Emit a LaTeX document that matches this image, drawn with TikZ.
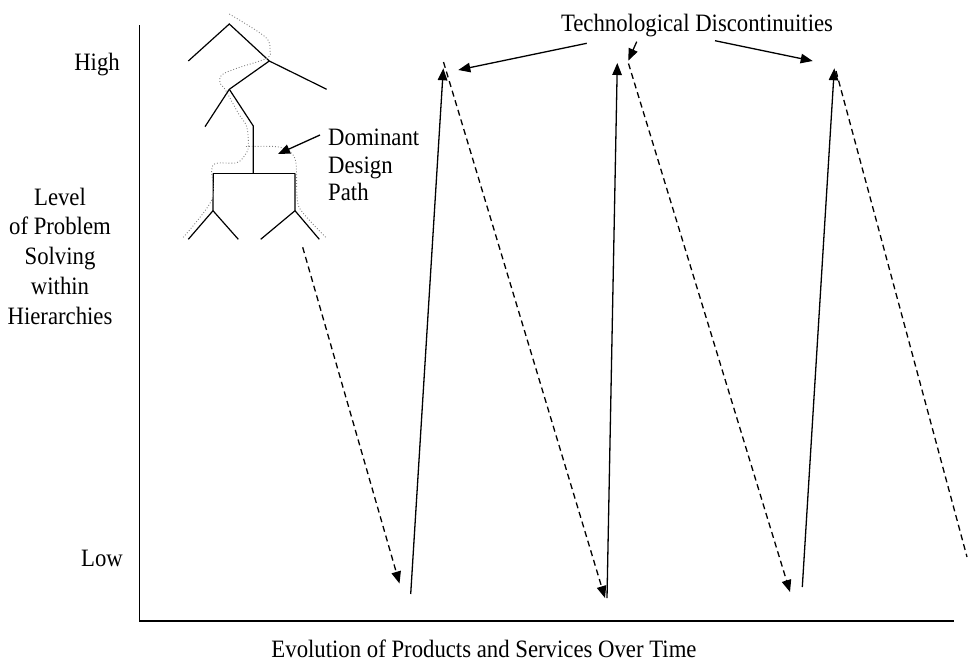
\documentclass[tikz,border=0pt]{standalone}
\usepackage{fontspec}
\setmainfont{Liberation Serif}[FakeStretch=0.91]
\usetikzlibrary{arrows.meta}
\begin{document}
\begin{tikzpicture}[x=1pt,y=-1pt,
  lbl/.style={font=\fontsize{25}{29}\selectfont, inner sep=0pt},
  ln/.style={line width=1.3pt},
  tip/.style={-{Triangle[length=12pt,width=9.5pt]}},
  arr/.style={ln, tip},
  dsh/.style={ln, dash pattern=on 6pt off 4pt},
  dpath/.style={gray, line width=0.9pt, dotted},
  tree/.style={line width=1.2pt}]
\useasboundingbox (0,0) rectangle (968,667);
% axes
\coordinate (ytop) at (139.3,25);
\coordinate (orig) at (139.3,621);
\coordinate (xend) at (954,621);
\draw[ln] (ytop) -- (orig) -- (xend);
% axis labels
\node[lbl, anchor=base east] (high) at (120,70) {High};
\node[lbl, anchor=base east] (low) at (123,566) {Low};
\node[lbl, anchor=base] (l1) at (60,205) {Level};
\node[lbl, anchor=base] (l2) at (60,234.5) {of Problem};
\node[lbl, anchor=base] (l3) at (60,264) {Solving};
\node[lbl, anchor=base] (l4) at (60,294) {within};
\node[lbl, anchor=base] (l5) at (60,324) {Hierarchies};
\node[lbl, anchor=base] (xl) at (484,657) {Evolution of Products and Services Over Time};
% tree
\coordinate (A) at (229.3,24);
\coordinate (B) at (188.3,61);
\coordinate (C) at (269.3,61);
\coordinate (D) at (326.7,89.3);
\coordinate (E) at (229.3,89.3);
\coordinate (F) at (205,126.7);
\coordinate (G) at (253.3,126);
\coordinate (H) at (253.3,173.3);
\coordinate (I) at (213.3,173.3);
\coordinate (J) at (295,173.3);
\coordinate (K) at (213,210.7);
\coordinate (L) at (295,210.7);
\coordinate (M) at (188.3,239.3);
\coordinate (N) at (238.3,239.3);
\coordinate (O) at (260.7,239.3);
\coordinate (P) at (319.3,239.3);
\draw[tree] (B) -- (A) -- (C) -- (D);
\draw[tree] (C) -- (E) -- (F);
\draw[tree] (E) -- (G) -- (H);
\draw[tree] (I) -- (J);
\draw[tree] (I) -- (K) -- (M);
\draw[tree] (K) -- (N);
\draw[tree] (J) -- (L) -- (O);
\draw[tree] (L) -- (P);
% dominant design path (dotted)
\draw[dpath] plot[smooth, tension=0.55] coordinates {(229.3,14) (265,36.7) (270,50) (266.7,58.3) (236.7,68.3) (221.7,75) (220,83.3) (225,89.3) (238.3,113.3) (246.7,126.7) (248.3,146.7) (245,155) (236.7,162.7) (216.7,163.3) (211.7,170) (211.7,200) (183.3,237.3)};
\draw[dpath] plot[smooth, tension=0.55] coordinates {(246,146.5) (276.7,146.7) (290,151.7) (296,163.3) (297.3,200) (303.3,213.3) (326.7,238.3)};
% dominant design label
\node[lbl, anchor=base west] (dd1) at (328,145) {Dominant};
\node[lbl, anchor=base west] (dd2) at (328,173) {Design};
\node[lbl, anchor=base west] (dd3) at (328,200) {Path};
\coordinate (dds) at (320,135);
\coordinate (ddt) at (278,154);
\draw[arr] (dds) -- (ddt);
% sawtooth
\coordinate (d1s) at (302.7,247.3);
\coordinate (b1) at (399.5,583.5);
\coordinate (s1b) at (410.7,594);
\coordinate (t1) at (443.3,68.3);
\coordinate (d2s) at (443.5,62);
\coordinate (b2) at (605,598);
\coordinate (s2b) at (607,598);
\coordinate (t2) at (617.3,63);
\coordinate (d3s) at (628.5,63.5);
\coordinate (b3) at (790,592);
\coordinate (s3b) at (802.3,587);
\coordinate (t3) at (834.3,68.3);
\coordinate (d4s) at (836,71);
\coordinate (d4e) at (967,557);
\draw[dsh, tip] (d1s) -- (b1);
\draw[arr] (s1b) -- (t1);
\draw[dsh, tip] (d2s) -- (b2);
\draw[arr] (s2b) -- (t2);
\draw[dsh, tip] (d3s) -- (b3);
\draw[arr] (s3b) -- (t3);
\draw[dsh] (d4s) -- (d4e);
% technological discontinuities
\node[lbl, anchor=base] (td) at (697,31) {Technological Discontinuities};
\coordinate (td1s) at (586.7,43.3);
\coordinate (td1e) at (458.3,70);
\coordinate (td2s) at (636.7,41.7);
\coordinate (td2e) at (628.3,60.7);
\coordinate (td3s) at (715,40.7);
\coordinate (td3e) at (812.7,61);
\draw[arr] (td1s) -- (td1e);
\draw[arr] (td2s) -- (td2e);
\draw[arr] (td3s) -- (td3e);
\end{tikzpicture}
\end{document}
